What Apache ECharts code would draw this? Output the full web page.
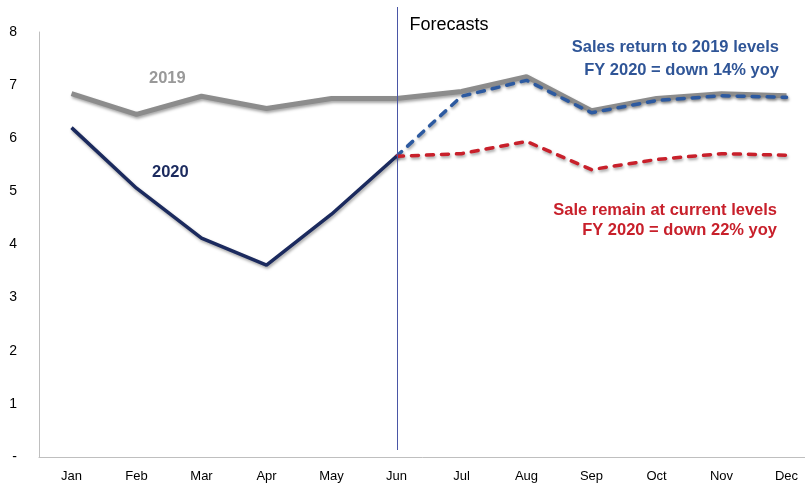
<!DOCTYPE html>
<html>
<head>
<meta charset="utf-8">
<script src="https://cdn.jsdelivr.net/npm/echarts@6/dist/echarts.min.js"></script>
<style>
  html, body { margin: 0; padding: 0; background: #fff; }
  #chart { width: 805px; height: 488px; }
</style>
</head>
<body>
<div id="chart"></div>
<script>
// Monthly sales, 2019 actuals vs 2020 actuals and two forecast scenarios
const months = ['Jan', 'Feb', 'Mar', 'Apr', 'May', 'Jun', 'Jul', 'Aug', 'Sep', 'Oct', 'Nov', 'Dec'];
const sales2019 = [6.84, 6.45, 6.79, 6.56, 6.75, 6.75, 6.88, 7.16, 6.52, 6.75, 6.84, 6.80];
const sales2020 = [6.20, 5.06, 4.12, 3.61, 4.57, 5.66, null, null, null, null, null, null];
const forecastReturn = [null, null, null, null, null, 5.66, 6.79, 7.09, 6.48, 6.71, 6.80, 6.77];
const forecastFlat = [null, null, null, null, null, 5.66, 5.71, 5.94, 5.41, 5.60, 5.71, 5.68];
const yTicks = [0, 1, 2, 3, 4, 5, 6, 7, 8];
const forecastStart = 'Jun';

const FONT = '"Liberation Sans", Arial, sans-serif';
const chart = echarts.init(document.getElementById('chart'), null, { renderer: 'canvas' });

const shadow = { shadowColor: 'rgba(0,0,0,0.35)', shadowBlur: 3, shadowOffsetX: 1, shadowOffsetY: 2 };
const dashed = { width: 3.5, type: [7, 8], cap: 'round' };

chart.setOption({
  animation: false,
  // the plot runs a little past the right edge of the canvas
  grid: { left: 39, top: 32, width: 780, height: 425, containLabel: false, outerBoundsMode: 'none' },
  xAxis: {
    type: 'category',
    data: months,
    boundaryGap: true,
    axisLine: { lineStyle: { color: '#bfbfbf', width: 1 } },
    axisTick: { show: false },
    axisLabel: { color: '#000', fontFamily: FONT, fontSize: 13, margin: 13 },
    splitLine: { show: false }
  },
  yAxis: {
    type: 'value',
    min: yTicks[0],
    max: yTicks[yTicks.length - 1],
    interval: 1,
    axisLine: { show: true, lineStyle: { color: '#bfbfbf', width: 1 } },
    axisTick: { show: false },
    splitLine: { show: false },
    axisLabel: {
      color: '#000', fontFamily: FONT, fontSize: 14, margin: 22,
      formatter: v => (v === 0 ? '-' : String(v))
    }
  },
  series: [
    {
      name: '2019', type: 'line', data: sales2019, symbol: 'none', z: 2,
      lineStyle: Object.assign({ color: '#8c8c8c', width: 5 }, shadow)
    },
    {
      name: 'Return to 2019', type: 'line', data: forecastReturn, symbol: 'none', z: 3,
      lineStyle: Object.assign({ color: '#2d5aa0' }, dashed, shadow)
    },
    {
      name: 'Current levels', type: 'line', data: forecastFlat, symbol: 'none', z: 3,
      lineStyle: Object.assign({ color: '#c8202b' }, dashed, shadow)
    },
    {
      name: '2020', type: 'line', data: sales2020, symbol: 'none', z: 4,
      lineStyle: Object.assign({ color: '#1b2a5e', width: 3.5 }, shadow)
    }
  ]
});

// Vertical divider marking where the forecast period begins
const xDivider = Math.round(chart.convertToPixel({ xAxisIndex: 0 }, forecastStart)) + 0.5;

chart.setOption({
  graphic: [
    {
      type: 'line', z: 10,
      shape: { x1: xDivider, y1: 7, x2: xDivider, y2: 450 },
      style: { stroke: '#4a56a6', lineWidth: 1 }
    },
    {
      type: 'text', x: xDivider + 12, y: 16,
      style: { text: 'Forecasts', fill: '#000', font: '18px ' + FONT }
    },
    {
      type: 'text', x: 149, y: 70,
      style: { text: '2019', fill: '#999999', font: 'bold 16.5px ' + FONT }
    },
    {
      type: 'text', x: 152, y: 164,
      style: { text: '2020', fill: '#1b2a5e', font: 'bold 16.5px ' + FONT }
    },
    {
      type: 'text', x: 779, y: 36,
      style: {
        text: 'Sales return to 2019 levels\nFY 2020 = down 14% yoy',
        fill: '#2f5597', font: 'bold 16.5px ' + FONT, align: 'right', lineHeight: 23
      }
    },
    {
      type: 'text', x: 777, y: 200,
      style: {
        text: 'Sale remain at current levels\nFY 2020 = down 22% yoy',
        fill: '#c8202b', font: 'bold 16.5px ' + FONT, align: 'right', lineHeight: 20
      }
    }
  ]
});
</script>
</body>
</html>
